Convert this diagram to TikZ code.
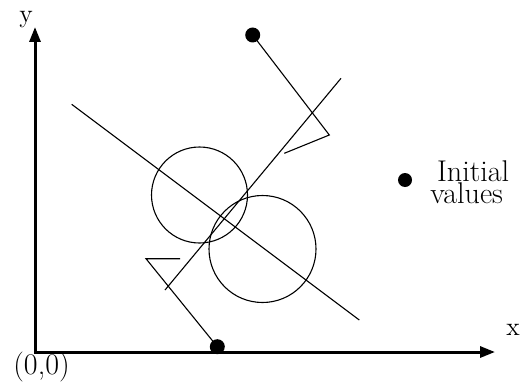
\documentclass[tikz,border=0pt]{standalone}
\usetikzlibrary{arrows.meta}
\begin{document}
\begin{tikzpicture}[x=0.5pt,y=-0.5pt,
  thin line/.style={line width=0.55pt},
  axis/.style={line width=1.5pt, line join=miter, {Triangle[length=7.5pt,width=5.5pt]}-{Triangle[length=7.5pt,width=5.5pt]}},
  dot/.style={circle, fill=black, inner sep=0pt, minimum size=7.5pt},
  axlabel/.style={font=\fontsize{13}{15}\selectfont, inner sep=0pt},
  biglabel/.style={font=\fontsize{15}{18}\selectfont, inner sep=0pt}]
\useasboundingbox (0,0) rectangle (522,390);
% axes
\coordinate (ytip) at (35,27);
\coordinate (orig) at (35,352);
\coordinate (xtip) at (495,352);
\draw[axis] (ytip) -- (orig) -- (xtip);
\node[axlabel, anchor=base] (ylab) at (26,23) {y};
\node[axlabel, anchor=base] (xlab) at (513,335) {x};
\node[biglabel] (olab) at (41.5,367.5) {(0,0)};
% circles
\node[draw, thin line, circle, minimum size=48pt, inner sep=0pt] (c1) at (199.5,195) {};
\node[draw, thin line, circle, minimum size=53.5pt, inner sep=0pt] (c2) at (262.5,249) {};
% long lines
\coordinate (r1) at (341,78.3);
\coordinate (r2) at (165,290);
\draw[thin line] (r1) -- (r2);
\coordinate (f1) at (71.7,104.3);
\coordinate (f2) at (359.3,320);
\draw[thin line] (f1) -- (f2);
% top dot and path
\node[dot] (d1) at (252.7,35) {};
\coordinate (t1) at (329.3,135);
\coordinate (t2) at (284.3,153.3);
\draw[thin line] (d1.center) -- (t1) -- (t2);
% bottom dot and path
\node[dot] (d2) at (217.3,346.7) {};
\coordinate (b1) at (146,258.7);
\coordinate (b2) at (180,258.7);
\draw[thin line] (d2.center) -- (b1) -- (b2);
% legend
\node[dot, minimum size=7pt] (d3) at (405,180) {};
\node[biglabel, anchor=base west] (init) at (436.7,181.7) {Initial};
\node[biglabel, anchor=base west] (vals) at (430,203) {values};
\end{tikzpicture}
\end{document}
